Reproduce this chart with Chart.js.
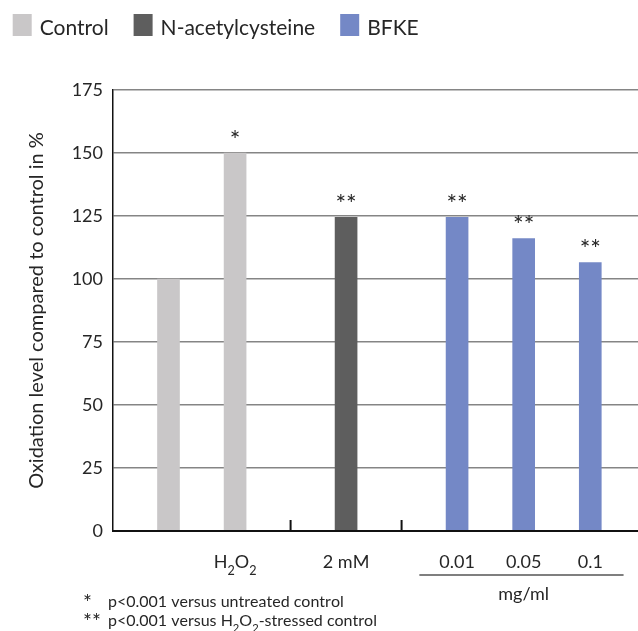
<!DOCTYPE html>
<html>
<head>
<meta charset="utf-8">
<script src="https://cdn.jsdelivr.net/npm/chart.js@4.4.1/dist/chart.umd.min.js"></script>
<style>
  html, body { margin: 0; padding: 0; background: #fff; overflow: hidden; }
</style>
</head>
<body>
<canvas id="grafico" width="638" height="631"></canvas>
<script>
// Datos
const series = ['Control', 'N-acetylcysteine', 'BFKE'];
const colores = ['#c9c7c8', '#5e5e5e', '#7488c6'];
const etiquetas = ['', 'H2O2', '2 mM', '0.01', '0.05', '0.1'];
const grupoDeBarra = [0, 0, 1, 2, 2, 2];
const valores = [100, 150, 124.5, 124.5, 116, 106.5];
const significancia = ['', '*', '**', '**', '**', '**'];
const ticksY = [0, 25, 50, 75, 100, 125, 150, 175];
const notas = [
    ['*', 'p<0.001 versus untreated control'],
    ['**', 'p<0.001 versus H2O2-stressed control']
];
const unidadBFKE = 'mg/ml';
const tituloY = 'Oxidation level compared to control in %';

const fuente = 'Lato, "Open Sans", sans-serif';
const colorTexto = '#262626';

// Posición de cada barra en el eje x: 3 huecos entre barras, 2 más entre grupos
function posicion(i) {
    return 2.5 + 3 * i + 2 * grupoDeBarra[i];
}

// Texto con subíndices (H2O2): los dígitos que siguen a una letra bajan
function textoQuimico(ctx, texto, x, y, tam, alinear) {
    const partes = [];
    for (let k = 0; k < texto.length; k++) {
        const c = texto[k];
        const sub = /\d/.test(c) && k > 0 && /[A-Za-z]/.test(texto[k - 1]);
        partes.push({ c, sub });
    }
    let ancho = 0;
    partes.forEach(p => {
        ctx.font = (p.sub ? tam * 0.7 : tam) + 'px ' + fuente;
        p.w = ctx.measureText(p.c).width;
        ancho += p.w;
    });
    let cx = alinear === 'center' ? x - ancho / 2 : x;
    ctx.textAlign = 'left';
    partes.forEach(p => {
        ctx.font = (p.sub ? tam * 0.7 : tam) + 'px ' + fuente;
        ctx.fillText(p.c, cx, p.sub ? y + tam * 0.38 : y);
        cx += p.w;
    });
}

const dibujosExtra = {
    id: 'dibujosExtra',
    afterDraw(chart) {
        const { ctx } = chart;
        const x = chart.scales.x;
        const y = chart.scales.y;
        const y0 = y.getPixelForValue(0);
        ctx.save();
        ctx.fillStyle = colorTexto;
        ctx.textBaseline = 'alphabetic';

        // Leyenda
        let lx = 12.7;
        series.forEach((nombre, g) => {
            ctx.fillStyle = colores[g];
            ctx.fillRect(lx, 14, 19, 22);
            ctx.fillStyle = colorTexto;
            ctx.font = '21px ' + fuente;
            ctx.textAlign = 'left';
            ctx.fillText(nombre, lx + 27, 35);
            lx += 27 + ctx.measureText(nombre).width + 25;
        });

        // Asteriscos y etiquetas bajo las barras
        valores.forEach((v, i) => {
            const px = x.getPixelForValue(posicion(i));
            ctx.font = '25px ' + fuente;
            ctx.textAlign = 'center';
            ctx.fillText(significancia[i], px, y.getPixelForValue(v) - 4.5);
            textoQuimico(ctx, etiquetas[i], px, y0 + 37, 18, 'center');
        });

        // Marcas que separan los grupos
        ctx.strokeStyle = '#111';
        ctx.lineWidth = 2;
        for (let i = 1; i < valores.length; i++) {
            if (grupoDeBarra[i] !== grupoDeBarra[i - 1]) {
                const mx = x.getPixelForValue((posicion(i) + posicion(i - 1)) / 2);
                ctx.beginPath();
                ctx.moveTo(mx, y0 - 11);
                ctx.lineTo(mx, y0);
                ctx.stroke();
            }
        }

        // Línea y unidad bajo las concentraciones de BFKE
        const idx = valores.map((v, i) => i).filter(i => grupoDeBarra[i] === 2);
        const xa = x.getPixelForValue(posicion(idx[0]) - 1.7);
        const xb = x.getPixelForValue(posicion(idx[idx.length - 1]) + 1.5);
        ctx.strokeStyle = '#555';
        ctx.lineWidth = 1.5;
        ctx.beginPath();
        ctx.moveTo(xa, y0 + 44);
        ctx.lineTo(xb, y0 + 44);
        ctx.stroke();
        ctx.font = '18px ' + fuente;
        ctx.textAlign = 'center';
        const xc = (x.getPixelForValue(posicion(idx[0])) + x.getPixelForValue(posicion(idx[idx.length - 1]))) / 2;
        ctx.fillText(unidadBFKE, xc, y0 + 69);

        // Notas al pie
        notas.forEach((n, k) => {
            const by = 607 + k * 19;
            ctx.font = '21px ' + fuente;
            ctx.textAlign = 'left';
            ctx.fillText(n[0], 83, by + 3);
            textoQuimico(ctx, n[1], 108, by, 16, 'left');
        });
        ctx.restore();
    }
};

const datasets = series.map((nombre, g) => ({
    label: nombre,
    data: valores
        .map((v, i) => ({ x: posicion(i), y: v, g: grupoDeBarra[i] }))
        .filter(p => p.g === g),
    backgroundColor: colores[g],
    grouped: false,
    barPercentage: 1,
    categoryPercentage: 1,
    maxBarThickness: 22
}));

new Chart(document.getElementById('grafico'), {
    type: 'bar',
    data: { datasets },
    options: {
        responsive: false,
        animation: false,
        layout: { padding: { top: 90, left: 0, right: 0, bottom: 0 } },
        plugins: {
            legend: { display: false },
            tooltip: { enabled: false }
        },
        scales: {
            x: {
                type: 'linear',
                min: 0,
                max: 23.65,
                offset: false,
                ticks: { display: false },
                grid: { display: false },
                border: { display: true, color: '#111', width: 2, z: 1 },
                afterFit(scale) { scale.height = 100; }
            },
            y: {
                min: 0,
                max: 175,
                afterBuildTicks(scale) { scale.ticks = ticksY.map(v => ({ value: v })); },
                ticks: {
                    padding: 10,
                    color: colorTexto,
                    font: { family: fuente, size: 18 }
                },
                grid: {
                    drawTicks: false,
                    color: ctx => ctx.tick && ctx.tick.value === 0 ? 'rgba(0,0,0,0)' : '#858585',
                    lineWidth: 1.5
                },
                border: { display: true, color: '#111', width: 1.5 },
                title: {
                    display: true,
                    text: tituloY,
                    color: colorTexto,
                    font: { family: fuente, size: 20 },
                    padding: { top: 25, bottom: 0 }
                },
                afterFit(scale) { scale.width = 113; }
            }
        }
    },
    plugins: [dibujosExtra]
});
</script>
</body>
</html>
